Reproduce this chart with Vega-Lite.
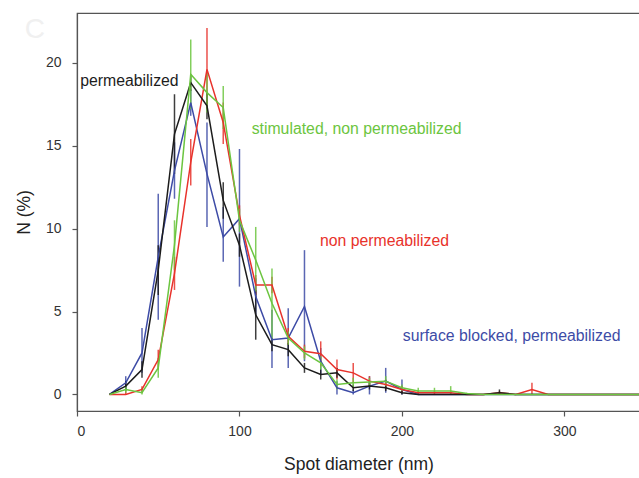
{
 "$schema": "https://vega.github.io/schema/vega-lite/v6.json",
 "width": 563,
 "height": 398,
 "autosize": {"type": "none"},
 "padding": {"left": 77, "top": 13, "right": 0, "bottom": 67},
 "background": "white",
 "config": {
  "font": "Liberation Sans",
  "view": {"stroke": "#555555", "strokeWidth": 1.2},
  "axis": {"grid": false, "domainColor": "#555555", "tickColor": "#555555", "tickSize": 5, "domainWidth": 1.2, "tickWidth": 1.2, "labelColor": "#333333", "titleColor": "#222222", "labelFontSize": 14, "titleFontSize": 17.5, "titleFontWeight": "normal"}
 },
 "datasets": {
  "pts": [
   {"s":"b","x":20,"y":0,"lo":0,"hi":0},
   {"s":"b","x":30,"y":0.7,"lo":0.3,"hi":1.1},
   {"s":"b","x":40,"y":2.5,"lo":1.3,"hi":4.0},
   {"s":"b","x":50,"y":8.3,"lo":4.5,"hi":12.1},
   {"s":"b","x":60,"y":13.5,"lo":11.8,"hi":15.2},
   {"s":"b","x":70,"y":17.6,"lo":16.8,"hi":18.4},
   {"s":"b","x":80,"y":13.3,"lo":10.1,"hi":16.4},
   {"s":"b","x":90,"y":9.5,"lo":8.0,"hi":11.3},
   {"s":"b","x":100,"y":10.6,"lo":6.5,"hi":14.8},
   {"s":"b","x":110,"y":5.9,"lo":4.8,"hi":7.0},
   {"s":"b","x":120,"y":3.3,"lo":1.6,"hi":5.1},
   {"s":"b","x":130,"y":3.4,"lo":1.6,"hi":5.2},
   {"s":"b","x":140,"y":5.3,"lo":2.0,"hi":8.7},
   {"s":"b","x":150,"y":2.0,"lo":1.2,"hi":2.8},
   {"s":"b","x":160,"y":0.4,"lo":0,"hi":0.8},
   {"s":"b","x":170,"y":0.1,"lo":0,"hi":0.3},
   {"s":"b","x":180,"y":0.5,"lo":0,"hi":1.1},
   {"s":"b","x":190,"y":0.8,"lo":0.1,"hi":1.6},
   {"s":"b","x":200,"y":0.3,"lo":0,"hi":0.9},
   {"s":"b","x":210,"y":0,"lo":0,"hi":0.1},
   {"s":"b","x":220,"y":0,"lo":0,"hi":0},
   {"s":"b","x":230,"y":0,"lo":0,"hi":0},
   {"s":"b","x":240,"y":0,"lo":0,"hi":0},
   {"s":"b","x":250,"y":0,"lo":0,"hi":0},
   {"s":"b","x":260,"y":0,"lo":0,"hi":0},
   {"s":"b","x":270,"y":0,"lo":0,"hi":0},
   {"s":"b","x":280,"y":0,"lo":0,"hi":0},
   {"s":"b","x":290,"y":0,"lo":0,"hi":0},
   {"s":"b","x":300,"y":0,"lo":0,"hi":0},
   {"s":"b","x":320,"y":0,"lo":0,"hi":0},
   {"s":"b","x":340,"y":0,"lo":0,"hi":0},
   {"s":"b","x":360,"y":0,"lo":0,"hi":0},
   {"s":"r","x":20,"y":0,"lo":0,"hi":0},
   {"s":"r","x":30,"y":0,"lo":0,"hi":0.2},
   {"s":"r","x":40,"y":0.3,"lo":0.1,"hi":0.5},
   {"s":"r","x":50,"y":2.1,"lo":1.5,"hi":2.7},
   {"s":"r","x":60,"y":7.3,"lo":6.3,"hi":8.3},
   {"s":"r","x":70,"y":14.0,"lo":12.6,"hi":15.4},
   {"s":"r","x":80,"y":19.6,"lo":17.2,"hi":22.1},
   {"s":"r","x":90,"y":16.4,"lo":15.1,"hi":17.6},
   {"s":"r","x":100,"y":10.8,"lo":10.2,"hi":11.4},
   {"s":"r","x":110,"y":6.6,"lo":6.0,"hi":7.2},
   {"s":"r","x":120,"y":6.6,"lo":6.1,"hi":7.1},
   {"s":"r","x":130,"y":3.5,"lo":3.0,"hi":4.0},
   {"s":"r","x":140,"y":2.6,"lo":2.2,"hi":3.0},
   {"s":"r","x":150,"y":2.45,"lo":1.7,"hi":3.2},
   {"s":"r","x":160,"y":1.5,"lo":0.9,"hi":2.1},
   {"s":"r","x":170,"y":1.3,"lo":0.7,"hi":1.9},
   {"s":"r","x":180,"y":0.8,"lo":0.5,"hi":1.1},
   {"s":"r","x":190,"y":0.6,"lo":0.3,"hi":0.9},
   {"s":"r","x":200,"y":0.3,"lo":0.1,"hi":0.5},
   {"s":"r","x":210,"y":0.1,"lo":0,"hi":0.2},
   {"s":"r","x":220,"y":0.1,"lo":0,"hi":0.2},
   {"s":"r","x":230,"y":0.1,"lo":0,"hi":0.2},
   {"s":"r","x":240,"y":0,"lo":0,"hi":0},
   {"s":"r","x":250,"y":0,"lo":0,"hi":0},
   {"s":"r","x":260,"y":0.1,"lo":0,"hi":0.2},
   {"s":"r","x":270,"y":0,"lo":0,"hi":0},
   {"s":"r","x":280,"y":0.3,"lo":0,"hi":0.7},
   {"s":"r","x":290,"y":0,"lo":0,"hi":0},
   {"s":"r","x":300,"y":0,"lo":0,"hi":0},
   {"s":"r","x":320,"y":0,"lo":0,"hi":0},
   {"s":"r","x":340,"y":0,"lo":0,"hi":0},
   {"s":"r","x":360,"y":0,"lo":0,"hi":0},
   {"s":"k","x":20,"y":0,"lo":0,"hi":0},
   {"s":"k","x":30,"y":0.5,"lo":0.2,"hi":0.8},
   {"s":"k","x":40,"y":1.5,"lo":1.0,"hi":2.0},
   {"s":"k","x":50,"y":7.5,"lo":6.0,"hi":9.0},
   {"s":"k","x":60,"y":15.7,"lo":13.3,"hi":18.1},
   {"s":"k","x":70,"y":18.8,"lo":18.3,"hi":19.3},
   {"s":"k","x":80,"y":17.4,"lo":16.6,"hi":18.2},
   {"s":"k","x":90,"y":11.7,"lo":10.6,"hi":12.8},
   {"s":"k","x":100,"y":9.0,"lo":8.3,"hi":9.7},
   {"s":"k","x":110,"y":4.8,"lo":3.3,"hi":6.3},
   {"s":"k","x":120,"y":3.0,"lo":2.6,"hi":3.4},
   {"s":"k","x":130,"y":2.7,"lo":2.3,"hi":3.1},
   {"s":"k","x":140,"y":1.6,"lo":1.3,"hi":1.9},
   {"s":"k","x":150,"y":1.2,"lo":0.9,"hi":1.5},
   {"s":"k","x":160,"y":1.3,"lo":1.0,"hi":1.6},
   {"s":"k","x":170,"y":0.4,"lo":0.2,"hi":0.6},
   {"s":"k","x":180,"y":0.5,"lo":0.3,"hi":0.7},
   {"s":"k","x":190,"y":0.4,"lo":0.2,"hi":0.6},
   {"s":"k","x":200,"y":0.1,"lo":0,"hi":0.2},
   {"s":"k","x":210,"y":0,"lo":0,"hi":0},
   {"s":"k","x":220,"y":0,"lo":0,"hi":0},
   {"s":"k","x":230,"y":0,"lo":0,"hi":0},
   {"s":"k","x":240,"y":0,"lo":0,"hi":0},
   {"s":"k","x":250,"y":0,"lo":0,"hi":0},
   {"s":"k","x":260,"y":0.1,"lo":0,"hi":0.3},
   {"s":"k","x":270,"y":0,"lo":0,"hi":0},
   {"s":"k","x":280,"y":0,"lo":0,"hi":0},
   {"s":"k","x":290,"y":0,"lo":0,"hi":0},
   {"s":"k","x":300,"y":0,"lo":0,"hi":0},
   {"s":"k","x":320,"y":0,"lo":0,"hi":0},
   {"s":"k","x":340,"y":0,"lo":0,"hi":0},
   {"s":"k","x":360,"y":0,"lo":0,"hi":0},
   {"s":"g","x":20,"y":0,"lo":0,"hi":0},
   {"s":"g","x":30,"y":0.3,"lo":0.1,"hi":0.5},
   {"s":"g","x":40,"y":0.1,"lo":0,"hi":0.4},
   {"s":"g","x":50,"y":1.6,"lo":1.0,"hi":2.2},
   {"s":"g","x":60,"y":9.0,"lo":7.5,"hi":10.5},
   {"s":"g","x":70,"y":19.3,"lo":17.2,"hi":21.4},
   {"s":"g","x":80,"y":18.2,"lo":17.0,"hi":19.4},
   {"s":"g","x":90,"y":17.3,"lo":16.0,"hi":18.6},
   {"s":"g","x":100,"y":10.5,"lo":9.8,"hi":11.2},
   {"s":"g","x":110,"y":8.1,"lo":6.2,"hi":10.1},
   {"s":"g","x":120,"y":5.5,"lo":3.3,"hi":7.6},
   {"s":"g","x":130,"y":3.4,"lo":3.0,"hi":3.8},
   {"s":"g","x":140,"y":2.5,"lo":2.1,"hi":2.9},
   {"s":"g","x":150,"y":1.9,"lo":1.5,"hi":2.3},
   {"s":"g","x":160,"y":0.6,"lo":0.3,"hi":0.9},
   {"s":"g","x":170,"y":0.7,"lo":0.4,"hi":1.0},
   {"s":"g","x":180,"y":0.75,"lo":0.5,"hi":1.0},
   {"s":"g","x":190,"y":0.8,"lo":0.5,"hi":1.1},
   {"s":"g","x":200,"y":0.4,"lo":0.2,"hi":0.6},
   {"s":"g","x":210,"y":0.2,"lo":0.1,"hi":0.4},
   {"s":"g","x":220,"y":0.2,"lo":0.1,"hi":0.4},
   {"s":"g","x":230,"y":0.2,"lo":0,"hi":0.5},
   {"s":"g","x":240,"y":0.05,"lo":0,"hi":0.1},
   {"s":"g","x":250,"y":0,"lo":0,"hi":0},
   {"s":"g","x":260,"y":0,"lo":0,"hi":0},
   {"s":"g","x":270,"y":0,"lo":0,"hi":0},
   {"s":"g","x":280,"y":0,"lo":0,"hi":0},
   {"s":"g","x":290,"y":0,"lo":0,"hi":0},
   {"s":"g","x":300,"y":0,"lo":0,"hi":0},
   {"s":"g","x":320,"y":0,"lo":0,"hi":0},
   {"s":"g","x":340,"y":0,"lo":0,"hi":0},
   {"s":"g","x":360,"y":0,"lo":0,"hi":0}
  ],
  "labels": [
   {"s":"k","x":2,"y":18.9,"t":"permeabilized"},
   {"s":"g","x":107.5,"y":16.0,"t":"stimulated, non permeabilized"},
   {"s":"r","x":149.5,"y":9.25,"t":"non permeabilized"},
   {"s":"b","x":200.5,"y":3.5,"t":"surface blocked, permeabilized"}
  ],
  "panel": [
   {"x":-26,"y":22,"t":"C"}
  ]
 },
 "layer": [
  {
   "data": {"name": "pts"},
   "mark": {"type": "rule", "strokeWidth": 1.5, "opacity": 0.85, "clip": true},
   "encoding": {
    "x": {"field": "x", "type": "quantitative", "scale": {"domain": [0, 346.5], "nice": false, "zero": false}, "axis": {"values": [0, 100, 200, 300], "title": "Spot diameter (nm)", "labelPadding": 8, "titlePadding": 17}},
    "y": {"field": "lo", "type": "quantitative", "scale": {"domain": [-1, 23], "nice": false, "zero": false}, "axis": {"values": [0, 5, 10, 15, 20], "title": "N (%)", "labelPadding": 11, "titlePadding": 12}},
    "y2": {"field": "hi"},
    "color": {"field": "s", "type": "nominal", "scale": {"domain": ["k", "g", "r", "b"], "range": ["#1c1c1c", "#6cc540", "#e8322b", "#3d4ba6"]}, "legend": null}
   }
  },
  {
   "data": {"name": "pts"},
   "mark": {"type": "line", "strokeWidth": 1.5, "clip": true},
   "encoding": {
    "x": {"field": "x", "type": "quantitative"},
    "y": {"field": "y", "type": "quantitative"},
    "color": {"field": "s", "type": "nominal"}
   }
  },
  {
   "data": {"name": "labels"},
   "mark": {"type": "text", "align": "left", "baseline": "middle", "fontSize": 15.8},
   "encoding": {
    "x": {"field": "x", "type": "quantitative"},
    "y": {"field": "y", "type": "quantitative"},
    "text": {"field": "t"},
    "color": {"field": "s", "type": "nominal"}
   }
  },
  {
   "data": {"name": "panel"},
   "mark": {"type": "text", "align": "center", "baseline": "middle", "fontSize": 28, "color": "#f0f0f0"},
   "encoding": {
    "x": {"field": "x", "type": "quantitative"},
    "y": {"field": "y", "type": "quantitative"},
    "text": {"field": "t"}
   }
  }
 ]
}
